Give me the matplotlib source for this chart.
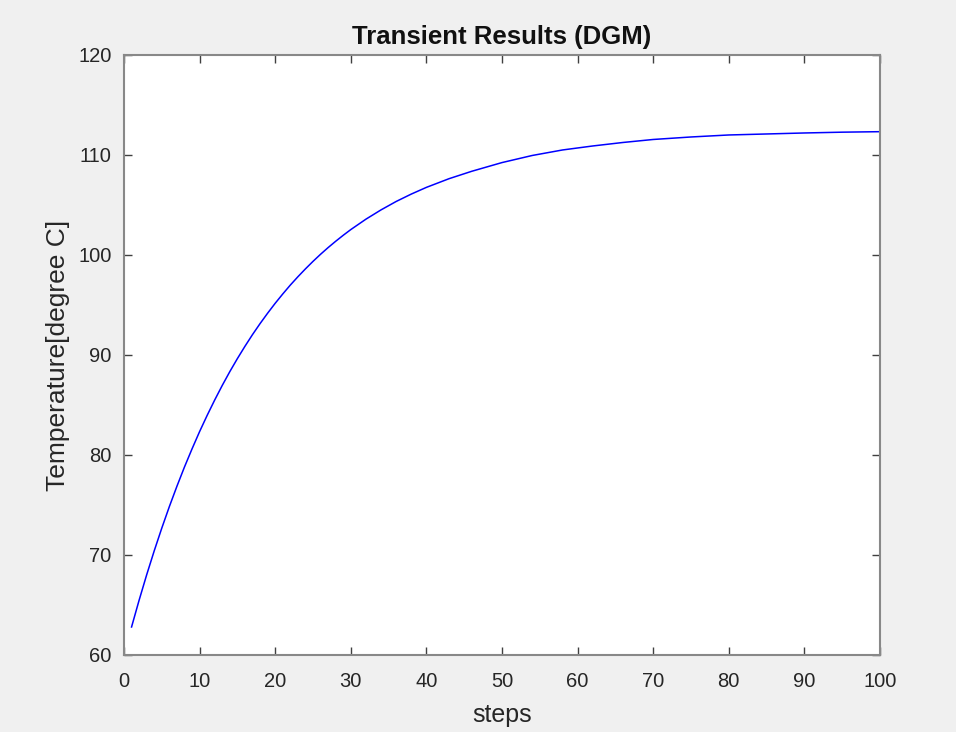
import matplotlib
matplotlib.use('Agg')
import matplotlib.pyplot as plt

# Values
steps = list(range(1, 31)) + [32, 34, 36, 38, 40, 43, 46, 50, 54, 58,
                              62, 66, 70, 75, 80, 85, 90, 95, 100]
temperature = [62.80, 65.48, 68.02, 70.42, 72.69, 74.84, 76.87, 78.80, 80.61, 82.34,
               83.96, 85.50, 86.96, 88.34, 89.64, 90.87, 92.04, 93.14, 94.18, 95.17,
               96.10, 96.99, 97.82, 98.61, 99.36, 100.07, 100.74, 101.37, 101.97, 102.54,
               103.58, 104.51, 105.35, 106.09, 106.76, 107.63, 108.37, 109.24, 109.95, 110.50,
               110.90, 111.25, 111.55, 111.80, 112.00, 112.10, 112.20, 112.28, 112.33]

x_ticks = list(range(0, 101, 10))
y_ticks = list(range(60, 121, 10))

plt.rcParams['font.family'] = ['Liberation Sans', 'DejaVu Sans']

fig = plt.figure(figsize=(9.56, 7.32), dpi=100, facecolor='#f0f0f0')
ax = fig.add_axes([0.1297, 0.1052, 0.7908, 0.8197])
ax.set_facecolor('white')

ax.plot(steps, temperature, color='#0000ff', linewidth=1.1)

ax.set_xlim(0, 100)
ax.set_ylim(60, 120)
ax.set_xticks(x_ticks)
ax.set_yticks(y_ticks)

for s in ax.spines.values():
    s.set_color('#888888')
    s.set_linewidth(1.5)

ax.tick_params(direction='in', length=6, width=1, color='#404040',
               top=True, right=True, labelsize=14.5, labelcolor='#262626')
ax.tick_params(axis='x', pad=12)
ax.tick_params(axis='y', pad=9)

ax.set_title('Transient Results (DGM)', fontsize=18.5, fontweight='bold',
             color='#111111', pad=8)
ax.set_xlabel('steps', fontsize=18, color='#262626', labelpad=9)
ax.set_ylabel('Temperature[degree C]', fontsize=19, color='#262626', labelpad=6)

fig.savefig('out.png', dpi=100, facecolor=fig.get_facecolor())
